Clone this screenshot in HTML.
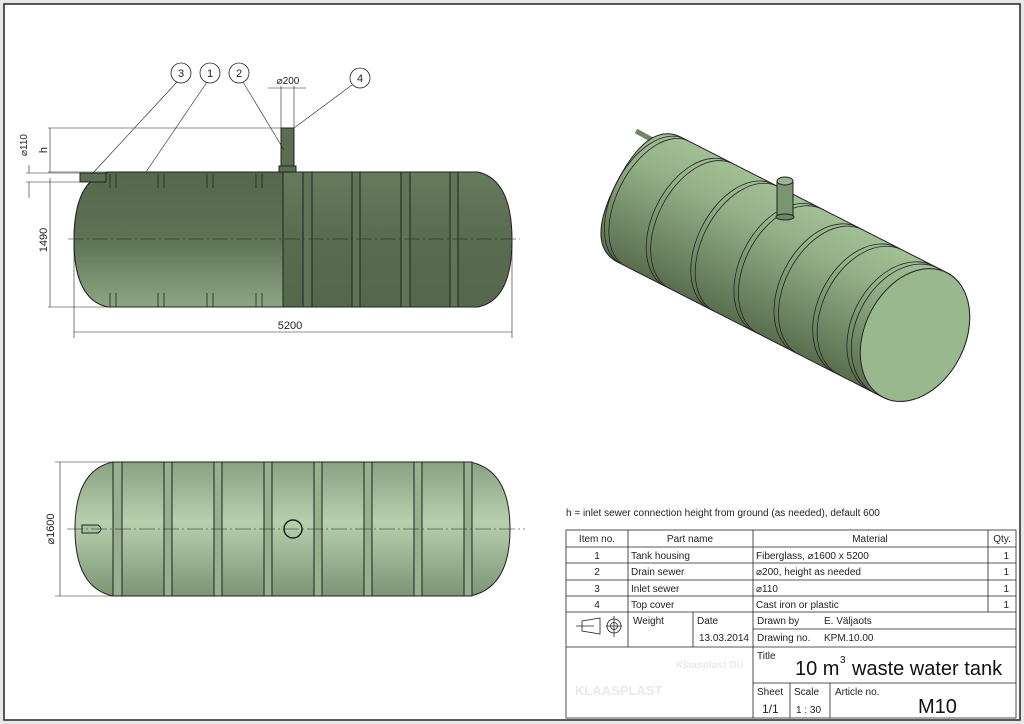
<!DOCTYPE html>
<html><head><meta charset="utf-8"><style>
html,body{margin:0;padding:0;background:#e8e8e8;}
svg{display:block;font-family:"Liberation Sans",sans-serif;}
</style></head><body>
<svg width="1024" height="724" viewBox="0 0 1024 724" xmlns="http://www.w3.org/2000/svg">
<defs>
<linearGradient id="gs" x1="0" y1="0" x2="0" y2="1">
<stop offset="0" stop-color="#56684c"/><stop offset="0.5" stop-color="#5e7254"/><stop offset="1" stop-color="#8ea684"/>
</linearGradient>
<linearGradient id="gr" x1="0" y1="0" x2="0" y2="1">
<stop offset="0" stop-color="#667a5c"/><stop offset="0.5" stop-color="#5a6c50"/><stop offset="1" stop-color="#56684c"/>
</linearGradient>
<linearGradient id="gt" x1="0" y1="0" x2="0" y2="1">
<stop offset="0" stop-color="#8aa282"/><stop offset="0.45" stop-color="#b8cfae"/><stop offset="1" stop-color="#7d9475"/>
</linearGradient>
<linearGradient id="g3" x1="0" y1="0" x2="0" y2="1">
<stop offset="0" stop-color="#a2bf96"/><stop offset="0.3" stop-color="#93b088"/><stop offset="1" stop-color="#5a6e4e"/>
</linearGradient>
</defs>
<rect x="4" y="4" width="1016" height="716" fill="#fff" stroke="#222" stroke-width="1.5"/>

<!-- SIDE VIEW -->
<g stroke="#222" stroke-width="1">
<path d="M108,172 L478,172 Q512,180 512,240 Q512,300 478,307 L108,307 Q74,300 74,240 Q74,180 108,172 Z" fill="url(#gr)"/>
<path d="M108,172 L283,172 L283,307 L108,307 Q74,300 74,240 Q74,180 108,172 Z" fill="url(#gs)"/>
<g fill="#607456">
<rect x="303" y="172" width="9" height="135"/><rect x="352" y="172" width="8" height="135"/><rect x="401" y="172" width="9" height="135"/><rect x="450" y="172" width="8" height="135"/>
</g>
<g fill="none" stroke-width="0.8">
<path d="M110,174v14m6,-14v14M158,174v14m6,-14v14M207,174v14m6,-14v14M256,174v14m6,-14v14"/>
<path d="M110,293v14m6,-14v14M158,293v14m6,-14v14M207,293v14m6,-14v14M256,293v14m6,-14v14"/>
</g>
<rect x="281" y="128" width="13" height="40" fill="#5c6e52"/>
<rect x="279" y="166" width="17" height="6" fill="#5c6e52"/>
<rect x="80" y="173" width="26" height="9" fill="#5c6e52"/>
</g>
<g stroke="#222" stroke-width="0.6" fill="none">
<line x1="68" y1="239" x2="520" y2="239" stroke-dasharray="16,3,2,3"/>
<line x1="48" y1="128" x2="281" y2="128"/>
<line x1="48" y1="172" x2="108" y2="172"/>
<line x1="48" y1="307" x2="108" y2="307"/>
<line x1="50" y1="128" x2="50" y2="172"/>
<line x1="50" y1="178" x2="50" y2="307"/>
<line x1="26" y1="173" x2="80" y2="173"/><line x1="26" y1="182" x2="80" y2="182"/>
<line x1="29" y1="165" x2="29" y2="173"/><line x1="29" y1="182" x2="29" y2="198"/>
<line x1="74" y1="240" x2="74" y2="338"/><line x1="512" y1="240" x2="512" y2="338"/>
<line x1="74" y1="332" x2="512" y2="332"/>
<line x1="281" y1="128" x2="281" y2="86"/><line x1="294" y1="128" x2="294" y2="86"/>
<line x1="268" y1="88" x2="306" y2="88"/>
<line x1="177" y1="82" x2="92" y2="174"/>
<line x1="207" y1="82" x2="146" y2="172"/>
<line x1="243" y1="82" x2="284" y2="150"/>
<line x1="352" y1="85" x2="294" y2="128"/>
</g>
<g fill="#fff" stroke="#222" stroke-width="0.8">
<circle cx="181" cy="73" r="10"/><circle cx="210" cy="73" r="10"/><circle cx="239" cy="73" r="10"/><circle cx="360" cy="78" r="10"/>
</g>
<g font-size="11" fill="#222" text-anchor="middle">
<text x="181" y="77">3</text><text x="210" y="77">1</text><text x="239" y="77">2</text><text x="360" y="82">4</text>
<text x="288" y="84" font-size="10">⌀200</text>
<text x="290" y="329" font-size="11">5200</text>
<text transform="translate(47,240) rotate(-90)" font-size="11">1490</text>
<text transform="translate(47,150) rotate(-90)" font-size="11">h</text>
<text transform="translate(27,145) rotate(-90)" font-size="10">⌀110</text>
</g>

<!-- TOP VIEW -->
<g stroke="#222" stroke-width="1">
<path d="M113,462 L470,462 Q510,470 510,529 Q510,588 470,596 L113,596 Q75,588 75,529 Q75,470 113,462 Z" fill="url(#gt)"/>
<g fill="#98b08e">
<rect x="113" y="462" width="9" height="134"/><rect x="164" y="462" width="8" height="134"/><rect x="214" y="462" width="8" height="134"/><rect x="264" y="462" width="8" height="134"/><rect x="314" y="462" width="8" height="134"/><rect x="364" y="462" width="8" height="134"/><rect x="414" y="462" width="8" height="134"/><rect x="464" y="462" width="8" height="134"/>
</g>
<path d="M82,525 L98,525 Q104,529 98,533 L82,533 Z" fill="#a8c09e"/>
<circle cx="293" cy="529" r="9" fill="none" stroke-width="1.5"/>
</g>
<g stroke="#222" stroke-width="0.6" fill="none">
<line x1="67" y1="529" x2="525" y2="529" stroke-dasharray="16,3,2,3"/>
<line x1="55" y1="462" x2="113" y2="462"/><line x1="55" y1="596" x2="113" y2="596"/>
<line x1="60" y1="462" x2="60" y2="596"/>
</g>
<text transform="translate(54,529) rotate(-90)" font-size="11" fill="#222" text-anchor="middle">⌀1600</text>

<!-- 3D VIEW -->
<path d="M636,131 L656,142" stroke="#6f8666" stroke-width="5"/>
<g transform="translate(915,335) rotate(27)">
<path d="M-300,-70 L0,-70 A50 70 0 0 1 0,70 L-300,70 Q-335,68 -335,0 Q-335,-68 -300,-70 Z" fill="url(#g3)" stroke="#222" stroke-width="1"/>
<g fill="none" stroke="#222" stroke-width="0.8">
<path d="M-295,-70 A40 70 0 0 0 -295,70"/><path d="M-290,-70 A40 70 0 0 0 -290,70"/>
<path d="M-245,-70 A44 70 0 0 0 -245,70"/><path d="M-240,-70 A44 70 0 0 0 -240,70"/>
<path d="M-195,-70 A44 70 0 0 0 -195,70"/><path d="M-190,-70 A44 70 0 0 0 -190,70"/>
<path d="M-145,-70 A46 70 0 0 0 -145,70"/><path d="M-140,-70 A46 70 0 0 0 -140,70"/>
<path d="M-100,-70 A46 70 0 0 0 -100,70"/><path d="M-95,-70 A46 70 0 0 0 -95,70"/>
<path d="M-55,-70 A48 70 0 0 0 -55,70"/><path d="M-50,-70 A48 70 0 0 0 -50,70"/>
<path d="M-15,-70 A50 70 0 0 0 -15,70"/><path d="M-10,-70 A50 70 0 0 0 -10,70"/>
</g>
<ellipse cx="0" cy="0" rx="50" ry="70" fill="#9ab88e" stroke="#222" stroke-width="1"/>
</g>
<g stroke="#222" stroke-width="1">
<rect x="777" y="181" width="16" height="36" fill="#7c9472"/>
<ellipse cx="785" cy="181" rx="8" ry="4" fill="#9ab490"/>
<ellipse cx="785" cy="217" rx="9" ry="3" fill="#6f8666"/>
</g>

<!-- NOTE & TABLE -->
<text x="566" y="516" font-size="10" fill="#222">h = inlet sewer connection height from ground (as needed), default 600</text>
<g stroke="#222" stroke-width="0.8" fill="none">
<rect x="566" y="530" width="450" height="188"/>
<line x1="566" y1="547" x2="1016" y2="547"/><line x1="566" y1="563" x2="1016" y2="563"/>
<line x1="566" y1="580" x2="1016" y2="580"/><line x1="566" y1="596" x2="1016" y2="596"/>
<line x1="566" y1="612" x2="1016" y2="612"/><line x1="566" y1="647" x2="1016" y2="647"/>
<line x1="753" y1="629" x2="1016" y2="629"/><line x1="753" y1="683" x2="1016" y2="683"/>
<line x1="628" y1="530" x2="628" y2="647"/><line x1="753" y1="530" x2="753" y2="718"/>
<line x1="988" y1="530" x2="988" y2="612"/><line x1="693" y1="612" x2="693" y2="647"/>
<line x1="790" y1="683" x2="790" y2="718"/><line x1="830" y1="683" x2="830" y2="718"/>
<path d="M576,626 L594,626 M582,621 L600,618 L600,634 L582,631 Z M606,626 L622,626 M614,616 L614,637"/>
<circle cx="614" cy="626" r="7"/><circle cx="614" cy="626" r="3.5"/>
</g>
<g font-size="10" fill="#222">
<text x="597" y="542" text-anchor="middle">Item no.</text>
<text x="690" y="542" text-anchor="middle">Part name</text>
<text x="870" y="542" text-anchor="middle">Material</text>
<text x="1002" y="542" text-anchor="middle">Qty.</text>
<text x="597" y="559" text-anchor="middle">1</text><text x="597" y="575" text-anchor="middle">2</text><text x="597" y="592" text-anchor="middle">3</text><text x="597" y="608" text-anchor="middle">4</text>
<text x="631" y="559">Tank housing</text><text x="631" y="575">Drain sewer</text><text x="631" y="592">Inlet sewer</text><text x="631" y="608">Top cover</text>
<text x="756" y="559">Fiberglass,  ⌀1600 x 5200</text><text x="756" y="575">⌀200, height as needed</text><text x="756" y="592">⌀110</text><text x="756" y="608">Cast iron or plastic</text>
<text x="1009" y="559" text-anchor="end">1</text><text x="1009" y="575" text-anchor="end">1</text><text x="1009" y="592" text-anchor="end">1</text><text x="1009" y="608" text-anchor="end">1</text>
<text x="633" y="624">Weight</text><text x="697" y="624">Date</text>
<text x="749" y="641" text-anchor="end">13.03.2014</text>
<text x="757" y="624">Drawn by</text><text x="824" y="624">E. Väljaots</text>
<text x="757" y="641">Drawing no.</text><text x="824" y="641">KPM.10.00</text>
<text x="757" y="659">Title</text>
<text x="757" y="695">Sheet</text><text x="794" y="695">Scale</text><text x="835" y="695">Article no.</text>
<text x="762" y="713" font-size="12">1/1</text><text x="796" y="713">1 : 30</text>
</g>
<text x="795" y="675" font-size="20" fill="#111">10 m</text>
<text x="840" y="663" font-size="10" fill="#111">3</text>
<text x="852" y="675" font-size="20" fill="#111">waste water tank</text>
<text x="918" y="713" font-size="20" fill="#111">M10</text>
<g fill="#e8ebe4" font-size="10"><text x="575" y="695" font-size="13" font-weight="bold">KLAASPLAST</text><text x="676" y="668" font-weight="bold">Klaasplast OÜ</text></g>
</svg>
</body></html>
